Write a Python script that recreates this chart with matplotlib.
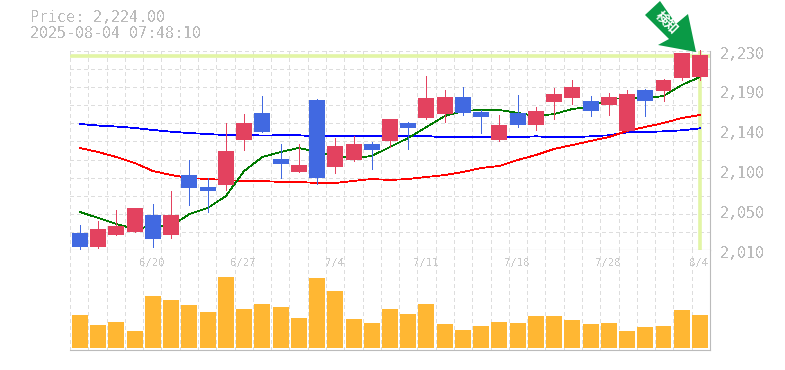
import numpy as np
import matplotlib
matplotlib.use('Agg')
import matplotlib.pyplot as plt
from matplotlib.patches import Polygon

plt.rcParams['text.antialiased'] = False

# Data
title_lines = ['Price: 2,224.00', '2025-08-04 07:48:10']
last_price = 2224.0

opens = [2028.8, 2013.3, 2026.6, 2029.9, 2048.7, 2026.6, 2092.9, 2079.6, 2081.9, 2131.6, 2161.5, 2110.6,
         2096.2, 2175.8, 2101.8, 2109.5, 2127.2, 2130.5, 2150.4, 2155.9, 2160.3, 2179.1, 2162.6, 2131.6,
         2161.5, 2148.2, 2173.6, 2178.0, 2174.7, 2170.3, 2141.6, 2186.9, 2185.8, 2200.1, 2201.3]
closes = [2013.3, 2033.2, 2036.5, 2056.4, 2022.2, 2048.7, 2078.5, 2075.2, 2119.4, 2150.4, 2140.5, 2105.1,
          2104.0, 2089.6, 2125.0, 2127.2, 2120.6, 2154.8, 2144.9, 2178.0, 2179.1, 2161.5, 2157.0, 2148.2,
          2148.2, 2163.7, 2182.5, 2190.2, 2163.7, 2179.1, 2182.5, 2174.7, 2197.9, 2227.8, 2225.6]
highs = [2037.6, 2042.1, 2054.2, 2056.4, 2060.9, 2075.2, 2109.5, 2089.6, 2150.4, 2160.3, 2180.2, 2127.2,
         2127.2, 2176.9, 2133.8, 2136.0, 2129.4, 2154.8, 2151.5, 2202.4, 2186.9, 2190.2, 2164.8, 2159.2,
         2181.4, 2168.1, 2189.1, 2197.9, 2180.2, 2183.6, 2186.9, 2188.0, 2199.0, 2227.8, 2231.1]
lows = [2009.2, 2012.2, 2026.6, 2029.9, 2013.3, 2023.3, 2059.7, 2052.0, 2076.3, 2120.6, 2140.5, 2089.6,
        2096.2, 2083.0, 2095.1, 2108.4, 2099.5, 2123.9, 2121.7, 2154.8, 2151.5, 2159.2, 2139.3, 2130.5,
        2146.0, 2142.7, 2154.8, 2171.4, 2158.1, 2159.2, 2141.6, 2158.1, 2174.7, 2197.9, 2197.9]

ma_short = [2052.0, 2045.4, 2038.7, 2033.2, 2036.5, 2036.5, 2049.8, 2056.4, 2069.7, 2097.3, 2112.8, 2118.3,
            2122.8, 2118.3, 2113.9, 2111.7, 2113.9, 2123.9, 2133.8, 2146.0, 2158.1, 2163.7, 2164.8, 2164.8,
            2161.5, 2158.1, 2160.3, 2165.9, 2168.1, 2176.9, 2178.0, 2178.0, 2180.2, 2192.4, 2201.3]
ma_mid = [2122.8, 2118.3, 2112.8, 2106.2, 2097.3, 2092.9, 2089.6, 2088.5, 2087.4, 2086.3, 2086.3, 2085.2,
          2085.2, 2084.1, 2084.1, 2086.3, 2088.5, 2087.4, 2088.5, 2090.7, 2092.9, 2096.2, 2100.7, 2102.9,
          2109.5, 2115.0, 2121.7, 2126.1, 2130.5, 2134.9, 2141.6, 2146.0, 2150.4, 2155.9, 2159.2]
ma_long = [2149.3, 2147.6, 2146.5, 2144.9, 2142.7, 2140.8, 2139.3, 2138.2, 2137.1, 2137.1, 2136.6, 2136.8,
           2136.8, 2135.7, 2135.7, 2135.7, 2135.7, 2135.7, 2136.0, 2136.0, 2134.6, 2134.6, 2134.6, 2134.6,
           2134.6, 2135.7, 2134.6, 2134.6, 2135.7, 2136.8, 2140.1, 2140.4, 2141.2, 2142.3, 2144.5]

volumes = [33, 23, 26, 17, 52, 48, 43, 36, 71, 39, 44, 41, 30, 70, 57, 29, 25, 39,
           34, 44, 24, 18, 22, 26, 25, 32, 32, 28, 24, 25, 17, 21, 22, 38, 33]

price_labels = ['2,230', '2,190', '2,140', '2,100', '2,050', '2,010']
price_label_pos = [2230, 2186, 2142, 2098, 2054, 2010]
date_pos = [4, 9, 14, 19, 24, 29, 34]
date_labels = ['6/20', '6/27', '7/4', '7/11', '7/18', '7/28', '8/4']

W, H = 785, 370
RED = '#E3425F'
BLUE = '#4169E1'
GRID = '#DDDDDD'
FRAME = '#BBBBBB'
TEXT = '#BBBBBB'
LIME = '#E2F5A5'
DASH = (0, (3, 3))

fig = plt.figure(figsize=(W / 100, H / 100), dpi=100)
ax = fig.add_axes([70 / W, (H - 250) / H, 640 / W, 199 / H])
ax_vol = fig.add_axes([70 / W, (H - 349.5) / H, 640 / W, 99.5 / H])

index = np.arange(len(opens))
xlim = (-0.548, 34.55)
grid_x = np.linspace(xlim[0], xlim[1], 36)
body_width = 0.877

for a in (ax, ax_vol):
    a.set_xlim(xlim)
    a.set_xticks(grid_x[:-1])
    a.tick_params(length=0, labelbottom=False, labelleft=False)
    a.grid(True, color=GRID, linewidth=0.72, linestyle=DASH, antialiased=False)
    a.set_axisbelow(True)
    a.spines['top'].set_visible(False)
    a.spines['left'].set_visible(False)
    a.spines['right'].set_color(FRAME)
    a.spines['bottom'].set_color(FRAME)
    a.spines['right'].set_linewidth(0.8)
    a.spines['bottom'].set_linewidth(0.8)
    # dashed left edge
    a.axvline(xlim[0], color=GRID, linewidth=0.72, linestyle=DASH, antialiased=False, clip_on=False)

# Price panel
ax.set_ylim(2010, 2230)
ax.set_yticks(np.arange(2010, 2231, 20))

ax.axhline(last_price, color=LIME, linewidth=2.6, zorder=1)
ax.axvline(index[-1], color=LIME, linewidth=2.6, zorder=1)

ax.plot(index, ma_long, color='#0000FF', linewidth=0.55, zorder=2, antialiased=False)
ax.plot(index, ma_mid, color='#FF0000', linewidth=0.55, zorder=2, antialiased=False)
ax.plot(index, ma_short, color='#007A00', linewidth=0.55, zorder=2, antialiased=False)

for i in index:
    color = RED if closes[i] >= opens[i] else BLUE
    ax.plot([i, i], [lows[i], highs[i]], color=color, linewidth=0.6, zorder=3,
            clip_on=False, antialiased=False, solid_capstyle='butt')
    ax.bar(i, abs(closes[i] - opens[i]), body_width, bottom=min(opens[i], closes[i]),
           color=color, zorder=4, antialiased=False, clip_on=False)

for label, pos in zip(price_labels, price_label_pos):
    ax.annotate(label, xy=(1, pos), xycoords=('axes fraction', 'data'),
                xytext=(7.2, -2.2), textcoords='offset points', ha='left', va='center',
                color=TEXT, fontsize=10.8, family='DejaVu Sans Mono')

# Volume panel
ax_vol.bar(index, volumes, body_width, color='#FFB733', zorder=3, antialiased=False)
ax_vol.set_ylim(-1.2, 98.3)
ax_vol.set_yticks([])

for pos, label in zip(date_pos, date_labels):
    ax_vol.annotate(label, xy=(pos, 1), xycoords=('data', 'axes fraction'),
                    xytext=(-0.4, -9.6), textcoords='offset points', ha='center', va='center',
                    color='#C8C8C8', fontsize=7.6, family='DejaVu Sans Mono')

fig.text(30 / W, (H - 18) / H, title_lines[0], color=TEXT, fontsize=10.8,
         family='DejaVu Sans Mono', ha='left', va='center')
fig.text(30 / W, (H - 33) / H, title_lines[1], color=TEXT, fontsize=10.8,
         family='DejaVu Sans Mono', ha='left', va='center')

# Badge arrow pointing at the last candle
arrow_px = [(660, 1), (645, 15), (669, 39), (658, 45), (696, 52), (688, 14), (676, 24)]
fig.add_artist(Polygon([(x / W, (H - y) / H) for x, y in arrow_px], closed=True,
                       transform=fig.transFigure, facecolor='#0A9A46', edgecolor='none', zorder=10))
fig.text(667 / W, (H - 22.5) / H, '検知', color='white', fontsize=9.4, fontweight='bold',
         family=['Noto Sans CJK JP', 'DejaVu Sans'], rotation=-45, rotation_mode='anchor',
         ha='center', va='center', zorder=11, antialiased=True)

fig.savefig('out.png', dpi=100)
